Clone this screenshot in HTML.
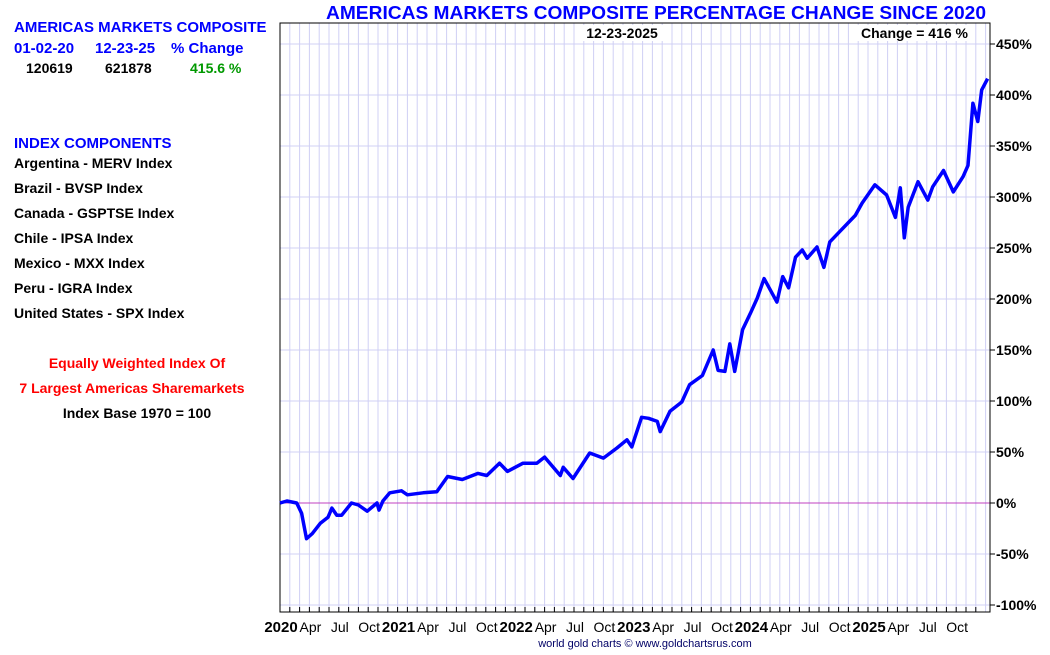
<!DOCTYPE html>
<html><head><meta charset="utf-8">
<style>
body{margin:0;background:#fff;width:1050px;height:650px;overflow:hidden;font-family:"Liberation Sans",sans-serif;}
svg text{font-family:"Liberation Sans",sans-serif;font-weight:bold;}
</style></head>
<body>
<svg id="chart" width="1050" height="650" xmlns="http://www.w3.org/2000/svg">
<g>
<text x="14" y="32" font-size="15" fill="#0000ff">AMERICAS MARKETS COMPOSITE</text>
<text x="14" y="53" font-size="15" fill="#0000ff">01-02-20</text>
<text x="95" y="53" font-size="15" fill="#0000ff">12-23-25</text>
<text x="171" y="53" font-size="15" fill="#0000ff">% Change</text>
<text x="26" y="73" font-size="14" fill="#000">120619</text>
<text x="105" y="73" font-size="14" fill="#000">621878</text>
<text x="190" y="73" font-size="14" fill="#009900">415.6 %</text>
<text x="14" y="148" font-size="15" fill="#0000ff">INDEX COMPONENTS</text>
<text x="14" y="168" font-size="14" fill="#000">Argentina - MERV Index</text>
<text x="14" y="193" font-size="14" fill="#000">Brazil - BVSP Index</text>
<text x="14" y="218" font-size="14" fill="#000">Canada - GSPTSE Index</text>
<text x="14" y="243" font-size="14" fill="#000">Chile - IPSA Index</text>
<text x="14" y="268" font-size="14" fill="#000">Mexico - MXX Index</text>
<text x="14" y="293" font-size="14" fill="#000">Peru - IGRA Index</text>
<text x="14" y="318" font-size="14" fill="#000">United States - SPX Index</text>
<text x="137" y="368" font-size="14" fill="#ff0000" text-anchor="middle">Equally Weighted Index Of</text>
<text x="132" y="393" font-size="14" fill="#ff0000" text-anchor="middle">7 Largest Americas Sharemarkets</text>
<text x="137" y="418" font-size="14" fill="#000" text-anchor="middle">Index Base 1970 = 100</text>
</g>
<text x="326" y="19" font-size="18" fill="#0000ff" textLength="660" lengthAdjust="spacingAndGlyphs">AMERICAS MARKETS COMPOSITE PERCENTAGE CHANGE SINCE 2020</text>
<g id="grid"></g>
<g id="axes"></g>
<g id="series"></g>
<rect x="580" y="25" width="84" height="16" fill="#fff"/>
<rect x="850" y="25" width="122" height="16" fill="#fff"/>
<text x="622" y="38" font-size="14" fill="#000" text-anchor="middle">12-23-2025</text>
<text x="968" y="38" font-size="14" fill="#000" text-anchor="end">Change = 416 %</text>
<text x="645" y="647" font-size="11" fill="#000066" text-anchor="middle" style="font-weight:normal">world gold charts © www.goldchartsrus.com</text>
</svg>
<script>
// months since Jan 2020
const months = [0,0.7,1.7,2.2,2.7,3.3,4.1,4.9,5.3,5.8,6.3,7.3,8.0,8.9,9.9,10.1,10.5,11.2,12.4,13.0,14.6,16.0,17.1,18.6,20.2,21.1,22.4,23.2,24.8,26.2,27.0,28.6,28.9,29.9,31.6,33.0,34.4,35.4,35.9,36.9,37.6,38.5,38.8,39.8,41.0,41.8,43.1,44.2,44.7,45.4,45.9,46.4,47.2,48.0,48.7,49.4,50.7,51.3,51.9,52.6,53.3,53.8,54.8,55.5,56.1,57.1,58.7,59.4,60.7,61.9,62.8,63.3,63.7,64.1,65.1,66.1,66.6,67.7,68.7,69.7,70.2,70.7,71.2,71.6,72.2];
const pctChange = [0,2,0,-10,-35,-30,-20,-14,-5,-12,-12,0,-2,-8,0,-7,2,10,12,8,10,11,26,23,29,27,39,31,39,39,45,27,35,24,49,44,54,62,55,84,83,80,70,90,99,116,125,150,130,129,156,129,170,186,201,220,197,222,211,241,248,240,251,231,256,266,282,294,312,302,280,309,260,290,315,297,310,326,305,320,331,392,374,405,416];
const yTicks = [-100,-50,0,50,100,150,200,250,300,350,400,450];
const yearLabels = ["2020","2021","2022","2023","2024","2025"];
const monthLabels = ["Apr","Jul","Oct"];

const NS="http://www.w3.org/2000/svg";
const X0=280,X1=990,MW=9.8,Y0=503,PY=1.02,TOP=23,BOT=612;
const xs=m=>X0+m*MW, ys=v=>Y0-v*PY;
const grid=document.getElementById('grid'),axes=document.getElementById('axes'),series=document.getElementById('series');
function mk(tag,attrs,parent){const e=document.createElementNS(NS,tag);for(const k in attrs)e.setAttribute(k,attrs[k]);parent.appendChild(e);return e;}
for(let k=1;k<=72;k++){
  const l=mk('line',{x1:xs(k),x2:xs(k),y1:TOP,y2:BOT,stroke:'#d0d0f4','stroke-width':1},grid);
  
  
}
yTicks.forEach(v=>{
  const l=mk('line',{x1:X0,x2:X1,y1:ys(v),y2:ys(v),stroke:v===0?'#c040c0':'#d0d0f4','stroke-width':1},grid);
  
  
  const t=mk('line',{x1:X1,x2:X1+5,y1:ys(v),y2:ys(v),stroke:'#000'},axes);
  
  
  const tx=mk('text',{x:996,y:ys(v)+5,'font-size':14,fill:'#000'},axes);
  tx.textContent=v+'%';
  
  
});
const frame=mk('rect',{x:X0,y:TOP,width:X1-X0,height:BOT-TOP,fill:'none',stroke:'#000','stroke-width':1},axes);


for(let k=0;k<72;k++){
  const t=mk('line',{x1:xs(k),x2:xs(k),y1:BOT,y2:BOT-5,stroke:'#000'},axes);
  
  
}
yearLabels.forEach((y,i)=>{
  const t=mk('text',{x:xs(i*12)+1,y:632,'font-size':15,fill:'#000','text-anchor':'middle'},axes);
  t.textContent=y;
  
  
  monthLabels.forEach((m,j)=>{
    const tm=mk('text',{x:xs(i*12+3*(j+1))+1,y:632,'font-size':14,fill:'#000','text-anchor':'middle',style:'font-weight:normal'},axes);
    tm.textContent=m;
    
    
  });
});
const d=months.map((m,i)=>(i?'L':'M')+xs(m).toFixed(1)+' '+ys(pctChange[i]).toFixed(1)).join(' ');
const p=mk('path',{d:d,fill:'none',stroke:'#0000ff','stroke-width':3.5,'stroke-linejoin':'round'},series);


</script>
</body></html>
